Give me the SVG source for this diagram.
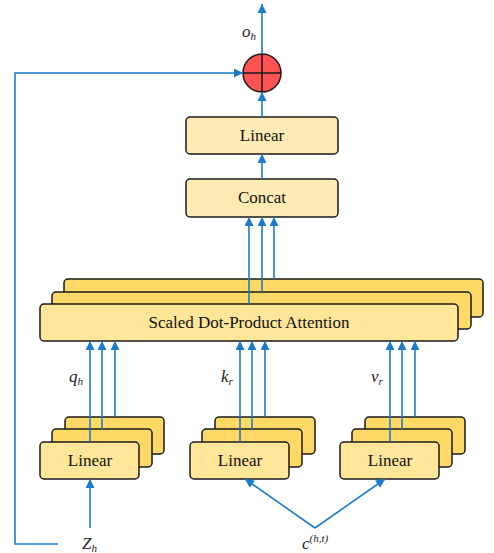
<svg xmlns="http://www.w3.org/2000/svg" width="494" height="553" viewBox="0 0 494 553">
<style>
.box{stroke:#1a1a1a;stroke-width:1.5}
.light{fill:#FFEBB3}
.front{fill:#FFE699}
.back{fill:#FFD966}
.lbl{font-family:"Liberation Serif","Times New Roman",serif;font-size:17px;fill:#111;text-anchor:middle}
.math{font-family:"Liberation Serif","Times New Roman",serif;font-style:italic;fill:#222}
.conn{stroke:#1A7CC9;stroke-width:1.6;fill:none}
.arr{marker-end:url(#ah)}
</style>
<defs>
<marker id="ah" viewBox="0 0 10 10" refX="10" refY="5" markerWidth="10" markerHeight="9" markerUnits="userSpaceOnUse" orient="auto">
<path d="M0,0 L10,5 L0,10 z" fill="#1A7CC9"/>
</marker>
</defs>
<rect width="494" height="553" fill="#fff"/>

<g id="add">
<circle cx="262" cy="73" r="19" fill="#FF5252" stroke="#1a1a1a" stroke-width="1.5"/>
<line x1="243" y1="73" x2="281" y2="73" stroke="#1a1a1a" stroke-width="1.5"/>
<line x1="262" y1="54" x2="262" y2="92" stroke="#1a1a1a" stroke-width="1.5"/>
</g>

<g id="linear-top">
<rect class="box light" x="186" y="117" width="152" height="37" rx="4"/>
<text class="lbl" x="262" y="141">Linear</text>
</g>

<g id="concat">
<rect class="box light" x="186" y="179" width="152" height="38" rx="4"/>
<text class="lbl" x="262" y="203">Concat</text>
</g>

<g id="attention">
<rect class="box back" x="64" y="279" width="419" height="38" rx="4"/>
<rect class="box back" x="52" y="292" width="419" height="37" rx="4"/>
<rect class="box front" x="40" y="304" width="418" height="37" rx="4"/>
<text class="lbl" x="249" y="328">Scaled Dot-Product Attention</text>
</g>

<g id="linear-q">
<rect class="box back" x="65" y="417" width="99" height="37" rx="4"/>
<rect class="box back" x="52" y="429" width="100" height="38" rx="4"/>
<rect class="box front" x="40" y="442" width="99" height="37" rx="4"/>
<text class="lbl" x="90" y="466">Linear</text>
</g>

<g id="linear-k">
<rect class="box back" x="215" y="417" width="100" height="37" rx="4"/>
<rect class="box back" x="202" y="429" width="100" height="38" rx="4"/>
<rect class="box front" x="190" y="442" width="99" height="37" rx="4"/>
<text class="lbl" x="240" y="466">Linear</text>
</g>

<g id="linear-v">
<rect class="box back" x="365" y="417" width="100" height="37" rx="4"/>
<rect class="box back" x="352" y="429" width="100" height="38" rx="4"/>
<rect class="box front" x="340" y="442" width="99" height="37" rx="4"/>
<text class="lbl" x="390" y="466">Linear</text>
</g>

<g id="connectors">
<line class="conn arr" x1="262" y1="54" x2="262" y2="4"/>
<polyline class="conn arr" points="58,544 15,544 15,73 243,73"/>
<line class="conn arr" x1="262" y1="117" x2="262" y2="92"/>
<line class="conn arr" x1="262" y1="179" x2="262" y2="154"/>
<line class="conn arr" x1="249" y1="304" x2="249" y2="217"/>
<line class="conn arr" x1="262" y1="292" x2="262" y2="217"/>
<line class="conn arr" x1="274" y1="279" x2="274" y2="217"/>
<line class="conn arr" x1="90" y1="442" x2="90" y2="341"/>
<line class="conn arr" x1="102" y1="429" x2="102" y2="341"/>
<line class="conn arr" x1="115" y1="417" x2="115" y2="341"/>
<line class="conn arr" x1="240" y1="442" x2="240" y2="341"/>
<line class="conn arr" x1="252" y1="429" x2="252" y2="341"/>
<line class="conn arr" x1="265" y1="417" x2="265" y2="341"/>
<line class="conn arr" x1="390" y1="442" x2="390" y2="341"/>
<line class="conn arr" x1="402" y1="429" x2="402" y2="341"/>
<line class="conn arr" x1="415" y1="417" x2="415" y2="341"/>
<line class="conn arr" x1="90" y1="528" x2="90" y2="479"/>
<line class="conn arr" x1="315" y1="528" x2="245" y2="479"/>
<line class="conn arr" x1="315" y1="528" x2="385" y2="479"/>
</g>

<g id="labels">
<text class="math" x="242" y="37" font-size="17">o<tspan font-size="11" dy="3">h</tspan></text>
<text class="math" x="69" y="382" font-size="17">q<tspan font-size="11" dy="3">h</tspan></text>
<text class="math" x="221" y="382" font-size="17">k<tspan font-size="11" dy="3">r</tspan></text>
<text class="math" x="371" y="382" font-size="17">v<tspan font-size="11" dy="3">r</tspan></text>
<text class="math" x="82" y="549" font-size="17">Z<tspan font-size="11" dy="3">h</tspan></text>
<text class="math" x="302" y="549" font-size="17">c<tspan font-size="11" dy="-7">(h,t)</tspan></text>
</g>
</svg>
